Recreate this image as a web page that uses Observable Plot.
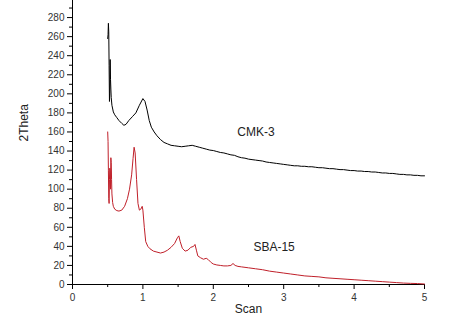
<!DOCTYPE html>
<html>
<head>
<meta charset="utf-8">
<script src="https://cdn.jsdelivr.net/npm/d3@7"></script>
<script src="https://cdn.jsdelivr.net/npm/@observablehq/plot@0.6"></script>
<style>
  html, body { margin: 0; padding: 0; background: #fff; }
  #chart svg { display: block; font-family: "Liberation Sans", Arial, sans-serif; }
</style>
</head>
<body>
<div id="chart"></div>
<script>
// CMK-3 (black)
const cmkX = [0.50,0.505,0.51,0.515,0.52,0.525,0.53,0.535,0.54,0.545,0.55,0.56,0.58,0.60,0.63,0.66,0.70,0.73,0.76,0.80,0.85,0.90,0.95,1.00,1.03,1.06,1.09,1.12,1.16,1.20,1.25,1.30,1.35,1.40,1.45,1.50,1.55,1.60,1.65,1.70,1.75,1.80,1.85,1.90,1.95,2.00,2.05,2.10,2.15,2.20,2.25,2.30,2.35,2.40,2.45,2.50,2.55,2.60,2.65,2.70,2.75,2.80,2.85,2.90,2.95,3.00,3.05,3.10,3.15,3.20,3.25,3.30,3.35,3.40,3.45,3.50,3.55,3.60,3.65,3.70,3.75,3.80,3.85,3.90,3.95,4.00,4.05,4.10,4.15,4.20,4.25,4.30,4.35,4.40,4.45,4.50,4.55,4.60,4.65,4.70,4.75,4.80,4.85,4.90,4.95,5.00];
const cmkY = [258,262,274,265,230,192,200,236,215,205,196,188,181,178,175,172,169,167,168,172,176,180,188,195,192,183,172,165,160,156,152,149,147.5,146,145.5,145,144.5,145,145.5,146,145,144,143,142,141,140.5,139.5,138.5,138,137,136,135.5,134,133,132.5,131.5,131,130.5,130,129.5,128.5,128,127.5,127,126.5,126,125.5,125,124.5,124.5,124,124,123.5,123.5,123,122.5,122.5,122,121.5,121.5,121,120.5,120.5,120,119.5,119.5,119,119,118.5,118.5,118,118,117.5,117,117,116.5,116.5,116,115.5,115.5,115,115,114.5,114.5,114,114];

// SBA-15 (red)
const sbaX = [0.50,0.505,0.51,0.515,0.52,0.525,0.53,0.535,0.54,0.545,0.55,0.555,0.56,0.57,0.58,0.60,0.63,0.66,0.70,0.74,0.78,0.81,0.84,0.86,0.875,0.89,0.91,0.93,0.95,0.97,0.99,1.00,1.02,1.04,1.07,1.10,1.15,1.20,1.25,1.30,1.35,1.40,1.45,1.49,1.51,1.53,1.56,1.60,1.64,1.68,1.72,1.74,1.76,1.78,1.82,1.86,1.90,1.93,1.97,2.00,2.05,2.10,2.15,2.20,2.25,2.28,2.31,2.35,2.40,2.50,2.60,2.70,2.80,2.90,3.00,3.10,3.20,3.30,3.40,3.50,3.60,3.70,3.80,3.90,4.00,4.10,4.20,4.30,4.40,4.50,4.60,4.70,4.80,4.90,5.00];
const sbaY = [160,150,120,90,85,110,122,118,100,133,128,110,95,86,82,79,77.5,77,78,82,90,100,115,132,144,138,110,85,78,79,82,78,60,45,40,37.5,35,34,33,34,36,39,43,49,51,45,38,35,36,39,40,42,36,30,28,26.5,27.5,26,23,21.5,20.5,20,19.5,19.5,20,22,20,19,18.5,17.5,16.5,15.5,14,13,12,11,10,9,8.5,8,7,6.5,6,5.5,5,4.5,4,3.5,3,2.5,2,1.5,1.2,1,0.5];

// annotations
const labelText = ["CMK-3", "SBA-15"];
const labelX = [2.34, 2.57];
const labelY = [160, 39];
const xTitle = "Scan";
const yTitle = "2Theta";

// ticks
const yMajor = d3.range(0, 281, 20);
const yMinor = d3.range(10, 300, 20);
const xMajor = [0, 1, 2, 3, 4, 5];
const xMinor = [0.5, 1.5, 2.5, 3.5, 4.5];

const cmk = cmkX.map((x, i) => ({x, y: cmkY[i]}));
const sba = sbaX.map((x, i) => ({x, y: sbaY[i]}));
const labels = labelText.map((t, i) => ({t, x: labelX[i], y: labelY[i]}));

const chart = Plot.plot({
  width: 458,
  height: 325,
  marginLeft: 72,
  marginRight: 34,
  marginTop: -2,
  marginBottom: 41,
  style: {fontFamily: "Liberation Sans, Arial, sans-serif", background: "#fff"},
  x: {domain: [0, 5]},
  y: {domain: [0, 300]},
  marks: [
    Plot.axisY(yMajor, {tickSize: 5, tickPadding: 3, fontSize: 10, color: "#333", stroke: "#000", label: null}),
    Plot.axisY(yMinor, {tickSize: 3, tickFormat: () => "", stroke: "#000", label: null}),
    Plot.axisX(xMajor, {tickSize: 5, tickPadding: 4, fontSize: 10, color: "#333", stroke: "#000", label: null}),
    Plot.axisX(xMinor, {tickSize: 3, tickFormat: () => "", stroke: "#000", label: null}),
    Plot.ruleX([0], {stroke: "#000"}),
    Plot.ruleY([0], {x1: 0, x2: 5, stroke: "#000"}),
    Plot.line(cmk, {x: "x", y: "y", stroke: "#000", strokeWidth: 1}),
    Plot.line(sba, {x: "x", y: "y", stroke: "#c0202a", strokeWidth: 1}),
    Plot.text(labels, {x: "x", y: "y", text: "t", textAnchor: "start", fontSize: 12, fill: "#222"}),
    Plot.text([xTitle], {frameAnchor: "bottom", dy: 28, fontSize: 12, fill: "#222"}),
    Plot.text([yTitle], {frameAnchor: "left", dx: -48, rotate: -90, fontSize: 12, fill: "#222"})
  ]
});
document.getElementById("chart").append(chart);
</script>
</body>
</html>
